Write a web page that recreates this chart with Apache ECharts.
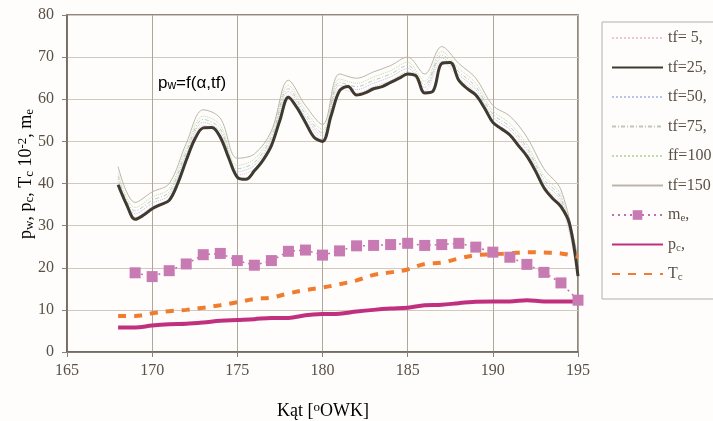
<!DOCTYPE html>
<html><head><meta charset="utf-8">
<script src="https://cdn.jsdelivr.net/npm/echarts@6/dist/echarts.min.js"></script>
<style>html,body{margin:0;padding:0;background:#fefdfb}#c{width:713px;height:421px}</style>
</head><body><div id="c"></div>
<script>
// main curve tf=25 at 0.5 deg steps
const xHalf = [168,168.5,169,169.5,170,170.5,171,171.5,172,172.5,173,173.5,174,174.5,175,175.5,176,176.5,177,177.5,178,178.5,179,179.5,180,180.5,181,181.5,182,182.5,183,183.5,184,184.5,185,185.5,186,186.5,187,187.5,188,188.5,189,189.5,190,190.5,191,191.5,192,192.5,193,193.5,194,194.5,195];
const tf25 = [39.7,35,31.5,32.5,34,35,36,40,45.5,50.5,53.2,53.3,51,46,41.5,41,43,45.5,49,55,60.5,58,54.5,51,50,56,62,63,61,61.5,62.5,63,64,65,66,65.5,61.5,62,68.5,68.7,64.5,62.5,61,58,54.5,53,51.5,49,46.5,43,39,36.5,34.5,30.5,18];
// other curves at 1 deg steps
const xInt = [168,169,170,171,172,173,174,175,176,177,178,179,180,181,182,183,184,185,186,187,188,189,190,191,192,193,194,195];
const tf5   = [40.2,32,34.5,36.5,46,53.8,51.5,42,43.5,49.6,61,55,50.5,62.5,61.5,63,64.5,66.5,62,69,65,61.5,55,52,47,39.5,35,18.5];
const tf50  = [41,32.8,35.3,37.3,46.8,54.5,52.3,42.8,44.3,50.3,61.8,55.8,51.3,63.3,62.3,63.8,65.3,67.3,62.8,69.8,65.8,62.3,55.8,52.8,47.8,40.3,35.8,19.3];
const tf75  = [41.7,33.5,36,38,47.5,55.2,53,43.5,45,51,62.5,56.5,52,64,63,64.5,66,68,63.5,70.5,66.5,63,56.5,53.5,48.5,41,36.5,20];
const ff100 = [42.5,34.3,36.8,38.8,48.3,56,53.8,44.3,45.8,51.8,63.3,57.3,52.8,64.8,63.8,65.3,66.8,68.8,64.3,71.3,67.3,63.8,57.3,54.3,49.3,41.8,37.3,20.8];
const tf150 = [44,35.5,38,40,49.5,57.5,55.5,46,47,52.5,64.5,58.5,54,66,65,66.5,68,70,66,72.5,68.5,65,58.5,56,51,43.5,38.5,22];
const pc    = [5.8,5.8,6.3,6.6,6.7,7.0,7.4,7.6,7.8,8.1,8.1,8.7,9.0,9.1,9.6,10,10.3,10.5,11.1,11.2,11.6,11.9,12.0,12.0,12.3,12.0,12.0,12.0];
const Tc    = [8.55,8.55,9.2,9.7,10,10.5,11.1,11.8,12.6,12.9,13.9,14.7,15.3,16.1,17.0,18.3,18.9,19.6,20.9,21.2,22.2,23,23.2,23.4,23.7,23.6,23.4,22.6];
const xMe   = [169,170,171,172,173,174,175,176,177,178,179,180,181,182,183,184,185,186,187,188,189,190,191,192,193,194,195];
const me    = [18.8,17.9,19.3,20.9,23.1,23.4,21.7,20.6,21.7,23.9,24.2,23,24,25.2,25.3,25.5,25.8,25.3,25.5,25.8,24.9,23.7,22.5,20.8,18.9,16.4,12.3];
const names = ['tf= 5,','tf=25,','tf=50,','tf=75,','ff=100','tf=150','me,','pc,','Tc'];
const xTicks = {min:165, max:195, interval:5};
const yTicks = {min:0, max:80, interval:10};

const pairs = (xs, ys) => xs.map((x,i)=>[x, ys[i]]);
const chart = echarts.init(document.getElementById('c'));
const serif = '"Liberation Serif", "Times New Roman", serif';
const sans = '"Liberation Sans", Arial, sans-serif';
const txt = '#5a5046';
function line(name, xs, ys, color, width, type, z) {
  return {name, type:'line', data: pairs(xs, ys), symbol:'none', smooth:0.35, z:z||2,
    lineStyle:{color, width, type}, itemStyle:{color}};
}
const subRich = {
  n:{fontFamily:serif,fontSize:16,color:txt,lineHeight:18},
  s:{fontFamily:serif,fontSize:11,color:txt,lineHeight:6,verticalAlign:'bottom'}
};
const bigRich = {
  n:{fontFamily:serif,fontSize:18,color:txt,lineHeight:20},
  s:{fontFamily:serif,fontSize:13,color:txt,lineHeight:6,verticalAlign:'bottom'},
  u:{fontFamily:serif,fontSize:13,color:txt,lineHeight:8,verticalAlign:'top'}
};
const legendData = names.map(n => n==='me,' ? {name:n} : {name:n, itemStyle:{opacity:0}});
chart.setOption({
  backgroundColor:'#fefdfb',
  animation:false,
  grid:{left:67,right:135,top:15,bottom:69,show:true,borderColor:'#6b6358',borderWidth:1.5},
  xAxis:{type:'value',min:xTicks.min,max:xTicks.max,interval:xTicks.interval,
    axisLine:{lineStyle:{color:'#6b6358',width:1.5}},
    axisTick:{show:true,length:5,lineStyle:{color:'#8a8278'}},
    axisLabel:{color:txt,fontFamily:serif,fontSize:16,margin:11},
    splitLine:{show:true,lineStyle:{color:'#b0a79c',width:1}}},
  yAxis:{type:'value',min:yTicks.min,max:yTicks.max,interval:yTicks.interval,
    axisLine:{show:true,lineStyle:{color:'#6b6358',width:1.5}},
    axisTick:{show:true,length:5,lineStyle:{color:'#8a8278'}},
    axisLabel:{color:txt,fontFamily:serif,fontSize:16,margin:13},
    splitLine:{show:true,lineStyle:{color:'#d2c9be',width:1}}},
  legend:{orient:'vertical',left:602,top:22,padding:[7,20,16,9],itemGap:11.5,
    itemWidth:51,itemHeight:12,borderColor:'#b5ada3',borderWidth:1,
    data:legendData,
    textStyle:{fontFamily:serif,fontSize:16,color:txt,lineHeight:18,rich:subRich},
    formatter:function(n){
      if(n==='me,') return '{n|m}{s|e}{n|,}';
      if(n==='pc,') return '{n|p}{s|c}{n|,}';
      if(n==='Tc') return '{n|T}{s|c}';
      return '{n|'+n+'}';
    }},
  graphic:[
    {type:'text',x:26,y:174,rotation:Math.PI/2,style:{
      text:'{n|p}{s|w}{n|, p}{s|c}{n|, T}{s|c}{n| 10}{u|-2}{n|, m}{s|e}',
      rich:bigRich,align:'center',verticalAlign:'middle'}},
    {type:'text',x:323,y:411,style:{
      text:'{n|Kąt [}{u|o}{n|OWK]}',rich:bigRich,align:'center',verticalAlign:'middle'}},
    {type:'text',x:158,y:83,style:{
      text:'{a|p}{b|w}{a|=f(α,tf)}',align:'left',verticalAlign:'middle',
      rich:{a:{fontFamily:sans,fontSize:17,color:'#4a423a',lineHeight:18},
            b:{fontFamily:sans,fontSize:12,color:'#4a423a',lineHeight:6,verticalAlign:'bottom'}}}}
  ],
  series:[
    line(names[0], xInt, tf5, '#efc6d2', 1, 'dotted', 2),
    line(names[2], xInt, tf50, '#b4c4ea', 1, 'dotted', 2),
    line(names[3], xInt, tf75, '#c0c8b8', 1, [4,2,1,2], 2),
    line(names[4], xInt, ff100, '#c0dcaa', 1, 'dotted', 2),
    line(names[5], xInt, tf150, '#bdb5ab', 1, 'solid', 2),
    line(names[1], xHalf, tf25, '#3f3a30', 3, 'solid', 4),
    {name:names[6],type:'line',data:pairs(xMe,me),symbol:'rect',symbolSize:11,z:6,
      lineStyle:{color:'#c36fad',width:1.5,type:[2,4]},itemStyle:{color:'#c87ab2'}},
    line(names[7], xInt, pc, '#c0307e', 4, 'solid', 5),
    line(names[8], xInt, Tc, '#f07c30', 4, [8,8], 5)
  ]
});
</script></body></html>
